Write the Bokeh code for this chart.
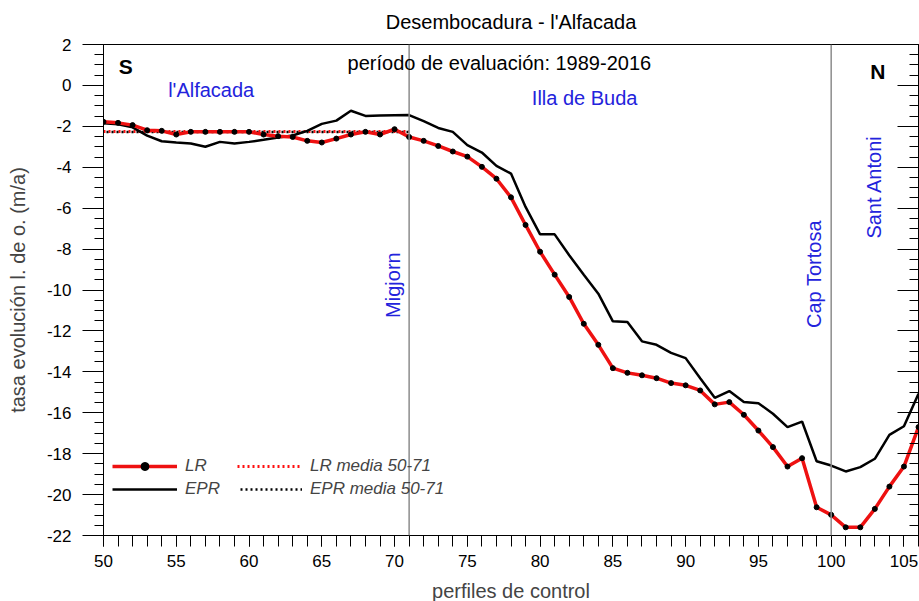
import math
from bokeh.plotting import figure
from bokeh.models import (ColumnDataSource, FixedTicker, LinearAxis, Span, Label,
                          Legend, LegendItem, Range1d)
from bokeh.embed import file_html
from bokeh.resources import INLINE

# ---------------- data ----------------
perfil = list(range(50, 107))
lr = [-1.78, -1.83, -1.94, -2.19, -2.22, -2.40, -2.27, -2.27, -2.27, -2.27,
      -2.27, -2.40, -2.48, -2.52, -2.71, -2.79, -2.60, -2.40, -2.27, -2.40,
      -2.14, -2.52, -2.71, -2.96, -3.23, -3.48, -3.98, -4.56, -5.47, -6.82,
      -8.13, -9.25, -10.34, -11.65, -12.68, -13.82, -14.05, -14.17, -14.31, -14.55,
      -14.66, -14.91, -15.59, -15.48, -16.10, -16.87, -17.68, -18.63, -18.22, -20.62,
      -20.99, -21.60, -21.60, -20.70, -19.61, -18.63, -16.70]
epr = [-1.85, -1.90, -2.05, -2.45, -2.73, -2.79, -2.84, -3.00, -2.76, -2.84,
       -2.76, -2.66, -2.55, -2.45, -2.22, -1.88, -1.72, -1.24, -1.49, -1.47,
       -1.46, -1.45, -1.75, -2.08, -2.27, -2.92, -3.28, -3.93, -4.31, -5.94,
       -7.28, -7.28, -8.30, -9.25, -10.18, -11.53, -11.57, -12.51, -12.68, -13.07,
       -13.33, -14.31, -15.27, -14.94, -15.48, -15.53, -16.05, -16.70, -16.43, -18.37,
       -18.58, -18.87, -18.66, -18.25, -17.08, -16.66, -15.07]
media_x = [50, 71]
lr_media = [-2.25, -2.25]
epr_media = [-2.28, -2.28]

x_major = [50, 55, 60, 65, 70, 75, 80, 85, 90, 95, 100, 105]
x_labels = ["50", "55", "60", "65", "70", "75", "80", "85", "90", "95", "100", "105"]
y_major = [2, 0, -2, -4, -6, -8, -10, -12, -14, -16, -18, -20, -22]
y_labels = ["2", "0", "-2", "-4", "-6", "-8", "-10", "-12", "-14", "-16", "-18", "-20", "-22"]
x_minor = list(range(50, 107))
y_minor = [2 - 0.5 * i for i in range(49)]

limites = [71, 100]   # Migjorn, Cap Tortosa

FONT = "Liberation Sans"
BLUE = "#2323dc"

p = figure(frame_width=815, frame_height=491, output_backend="svg", toolbar_location=None,
           x_range=Range1d(50, 106), y_range=Range1d(-22, 2),
           min_border_left=103, min_border_right=1, min_border_top=43, min_border_bottom=0)
p.background_fill_color = "white"
p.border_fill_color = "white"
p.outline_line_color = "black"
p.outline_line_width = 1
p.xgrid.visible = False
p.ygrid.visible = False

# title
p.title.text = "Desembocadura - l'Alfacada"
p.title.align = "center"
p.title.vertical_align = "top"
p.title.text_font = FONT
p.title.text_font_size = "20px"
p.title.text_font_style = "normal"
p.title.text_color = "black"
p.title.standoff = 20

# x axis
xa = p.xaxis[0]
xa.ticker = FixedTicker(ticks=x_major, minor_ticks=x_minor)
xa.major_label_overrides = {t: l for t, l in zip(x_major, x_labels)}
xa.major_tick_out = 11
xa.major_tick_in = 0
xa.minor_tick_out = 11
xa.minor_tick_in = 0
xa.major_label_standoff = 8
xa.major_label_text_font = FONT
xa.major_label_text_font_size = "17px"
xa.major_label_text_color = "black"
xa.axis_label = "perfiles de control"
xa.axis_label_text_font = FONT
xa.axis_label_text_font_size = "20px"
xa.axis_label_text_font_style = "normal"
xa.axis_label_standoff = 10
xa.axis_line_color = "black"
xa.major_tick_line_color = "black"
xa.minor_tick_line_color = "black"

# y axis
ya = p.yaxis[0]
ya.ticker = FixedTicker(ticks=y_major, minor_ticks=y_minor)
ya.major_label_overrides = {t: l for t, l in zip(y_major, y_labels)}
ya.major_tick_out = 21
ya.major_tick_in = 0
ya.minor_tick_out = 9
ya.minor_tick_in = 0
ya.major_label_standoff = 11
ya.major_label_text_font = FONT
ya.major_label_text_font_size = "17px"
ya.major_label_text_color = "black"
ya.axis_label = "tasa evolución l. de o. (m/a)"
ya.axis_label_text_font = FONT
ya.axis_label_text_font_size = "20px"
ya.axis_label_text_font_style = "normal"
ya.axis_label_standoff = 15
ya.axis_line_color = "black"

# right side: inward ticks only (no labels) -- long ticks at major values, short at minor
ra_minor = LinearAxis(ticker=FixedTicker(ticks=[], minor_ticks=y_minor))
ra_minor.minor_tick_in = 9
ra_minor.minor_tick_out = 0
ra_minor.major_label_standoff = 0
ra_minor.axis_line_color = "black"
p.add_layout(ra_minor, "right")
ra_major = LinearAxis(ticker=FixedTicker(ticks=[], minor_ticks=y_major))
ra_major.minor_tick_in = 21
ra_major.minor_tick_out = 0
ra_major.major_label_standoff = 0
ra_major.axis_line_color = None
p.add_layout(ra_major, "right")

# vertical limits
for loc in limites:
    p.add_layout(Span(location=loc, dimension="height", line_color="#8c8c8c", line_width=1.5))

src = ColumnDataSource(dict(x=perfil, lr=lr, epr=epr))
msrc = ColumnDataSource(dict(x=media_x, lr=lr_media, epr=epr_media))

r_lrm = p.line("x", "lr", source=msrc, line_color="#ff1010", line_width=3, line_dash="2 3")
r_eprm = p.line("x", "epr", source=msrc, line_color="black", line_width=2.5, line_dash="2 3",
                line_dash_offset=2)
r_epr = p.line("x", "epr", source=src, line_color="black", line_width=2.5)
r_lr = p.line("x", "lr", source=src, line_color="#ee1111", line_width=3.5)
r_lrp = p.scatter("x", "lr", source=src, size=5, fill_color="black", line_color="black")

# text annotations
def lab(x, y, text, color=BLUE, size="20px", angle=0.0, style="normal"):
    p.add_layout(Label(x=x, y=y, text=text, text_color=color, text_font=FONT,
                       text_font_size=size, text_font_style=style, angle=angle,
                       text_align="center", text_baseline="middle"))

lab(77.2, 1.1, "período de evaluación: 1989-2016", color="black")
lab(57.4, -0.22, "l'Alfacada")
lab(83.06, -0.61, "Illa de Buda")
lab(69.9, -9.76, "Migjorn", angle=math.pi / 2)
lab(98.82, -9.22, "Cap Tortosa", angle=math.pi / 2)
lab(102.95, -4.96, "Sant Antoni", angle=math.pi / 2)
lab(51.53, 0.91, "S", color="black", size="21px", style="bold")
lab(103.2, 0.66, "N", color="black", size="21px", style="bold")

# legends
common = dict(background_fill_alpha=0, border_line_alpha=0, padding=5, margin=0,
              glyph_width=65, glyph_height=20, label_height=20, spacing=3, label_standoff=8,
              label_text_font=FONT, label_text_font_size="17px", label_text_font_style="italic")
leg1 = Legend(items=[LegendItem(label="LR", renderers=[r_lr, r_lrp]),
                     LegendItem(label="EPR", renderers=[r_epr])],
              location=(4, 31), **common)
leg2 = Legend(items=[LegendItem(label="LR media 50-71", renderers=[r_lrm]),
                     LegendItem(label="EPR media 50-71", renderers=[r_eprm])],
              location=(129, 31), **common)
p.add_layout(leg1, "center")
p.add_layout(leg2, "center")

open("out.html", "w").write(file_html(p, INLINE))
